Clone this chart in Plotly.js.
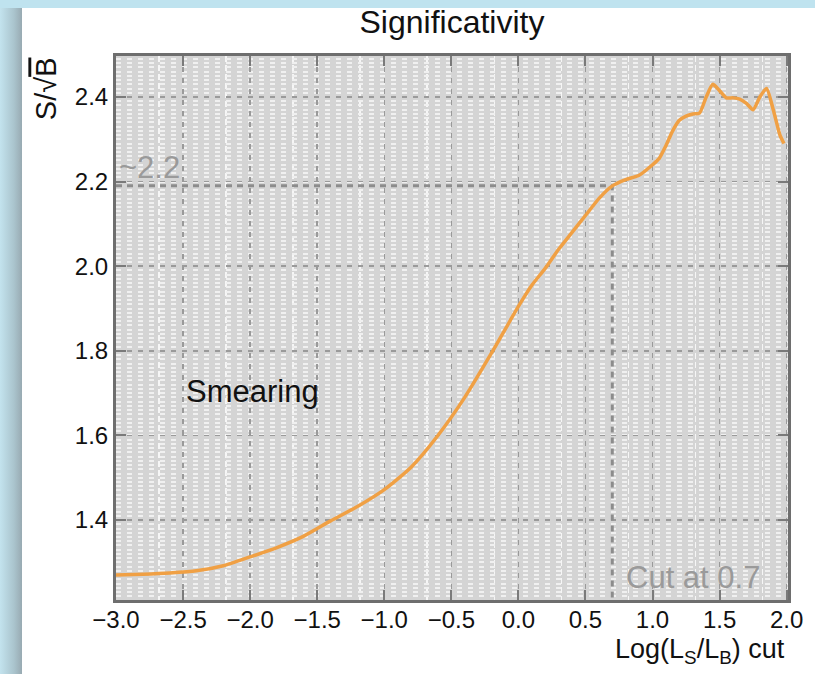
<!DOCTYPE html>
<html>
<head>
<meta charset="utf-8">
<script src="https://cdn.plot.ly/plotly-3.0.1.min.js"></script>
<style>
  html, body { margin: 0; padding: 0; width: 815px; height: 674px; overflow: hidden; }
  body {
    background: linear-gradient(to right, #c3e3ee 0px, #aac4cd 14px, #98aab2 22px, #c0e4f0 22px);
    position: relative;
  }
  #top { position: absolute; left: 0; top: 0; width: 815px; height: 8px; background: #bfe3ef; }
  #panel { position: absolute; left: 22px; top: 8px; width: 793px; height: 666px; background: #ffffff; }
  #chart { position: absolute; left: 0; top: 0; width: 815px; height: 674px; }
</style>
</head>
<body>
<div id="top"></div>
<div id="panel"></div>
<div id="chart"></div>
<script>
// Significance S/sqrt(B) versus the Log(L_S/L_B) cut
const cutValues = [-3.0, -2.8, -2.6, -2.4, -2.2, -2.0, -1.8, -1.6, -1.4, -1.2, -1.0, -0.8, -0.6, -0.4, -0.2,
  0.0, 0.1, 0.2, 0.3, 0.4, 0.5, 0.6, 0.7, 0.8, 0.9, 1.0, 1.05, 1.1, 1.15, 1.2, 1.25, 1.3, 1.35, 1.4,
  1.45, 1.5, 1.55, 1.6, 1.65, 1.7, 1.75, 1.8, 1.85, 1.9, 1.95, 1.98];
const significance = [1.270, 1.272, 1.275, 1.280, 1.292, 1.313, 1.335, 1.362, 1.398, 1.432, 1.472, 1.525, 1.600, 1.690, 1.795,
  1.905, 1.955, 1.995, 2.040, 2.080, 2.120, 2.160, 2.190, 2.205, 2.215, 2.240, 2.255, 2.285, 2.320, 2.345, 2.355, 2.360, 2.362, 2.400,
  2.430, 2.415, 2.398, 2.398, 2.395, 2.385, 2.370, 2.400, 2.420, 2.370, 2.310, 2.290];

const chosenCut = 0.7;
const chosenSignificance = 2.19;
const xRange = [-3.0, 2.01];
const yRange = [1.211, 2.497];
const xTickVals = [-3.0, -2.5, -2.0, -1.5, -1.0, -0.5, 0.0, 0.5, 1.0, 1.5, 2.0];
const xTickText = ['\u22123.0', '\u22122.5', '\u22122.0', '\u22121.5', '\u22121.0', '\u22120.5', '0.0', '0.5', '1.0', '1.5', '2.0'];
const yTickVals = [1.4, 1.6, 1.8, 2.0, 2.2, 2.4];
const yTickText = ['1.4', '1.6', '1.8', '2.0', '2.2', '2.4'];

const FONT = 'Liberation Sans, Arial, Helvetica, sans-serif';

const traces = [
  {
    x: [xRange[0], chosenCut, chosenCut],
    y: [chosenSignificance, chosenSignificance, yRange[0]],
    mode: 'lines',
    line: { color: '#8c8c8c', width: 3, dash: '6px,5px' },
    hoverinfo: 'skip',
    showlegend: false
  },
  {
    x: cutValues,
    y: significance,
    mode: 'lines',
    line: { color: '#f0a044', width: 3.5, shape: 'spline', smoothing: 0.6 },
    showlegend: false
  }
];

const layout = {
  width: 815,
  height: 674,
  margin: { l: 116, r: 27, t: 56, b: 74 },
  paper_bgcolor: 'rgba(0,0,0,0)',
  plot_bgcolor: '#d4d4d4',
  font: { family: FONT, color: '#111' },
  title: {
    text: 'Significativity',
    font: { family: FONT, size: 32, color: '#111' },
    x: 0.5, xref: 'paper', xanchor: 'center',
    y: 0.985, yref: 'container', yanchor: 'top',
    pad: { t: 0, b: 0 }
  },
  xaxis: {
    range: xRange,
    tickvals: xTickVals,
    ticktext: xTickText,
    tickfont: { family: FONT, size: 24, color: '#111' },
    ticklabelstandoff: -4,
    ticks: 'inside', ticklen: 10, tickwidth: 2, tickcolor: '#7a7a7a',
    showline: true, linecolor: '#6e6e6e', linewidth: 3, mirror: 'ticks',
    showgrid: true, gridcolor: '#9a9a9a', gridwidth: 1.5, griddash: '5px,6px',
    minor: { tick0: -2.68, dtick: 0.5, showgrid: true, gridcolor: '#f6f6f6', gridwidth: 1.5, griddash: '6px,3px', ticks: '' },
    zeroline: false,
    fixedrange: true
  },
  yaxis: {
    range: yRange,
    tickvals: yTickVals,
    ticktext: yTickText,
    tickfont: { family: FONT, size: 24, color: '#111' },
    ticks: 'inside', ticklen: 10, tickwidth: 2, tickcolor: '#7a7a7a',
    showline: true, linecolor: '#6e6e6e', linewidth: 3, mirror: 'ticks',
    showgrid: true, gridcolor: '#9a9a9a', gridwidth: 1.5, griddash: '5px,6px',
    minor: { dtick: 0.01, showgrid: true, gridcolor: '#f0f0f0', gridwidth: 2, ticks: '' },
    zeroline: false,
    fixedrange: true
  },
  annotations: [
    {
      text: 'S/\u221A<span style="text-decoration:overline">B</span>',
      textangle: -90,
      xref: 'paper', yref: 'paper',
      x: -0.103, y: 1.002, xanchor: 'center', yanchor: 'top',
      showarrow: false,
      font: { family: FONT, size: 29, color: '#111' }
    },
    {
      text: 'Log(L<sub>S</sub>/L<sub>B</sub>) cut',
      xref: 'paper', yref: 'paper',
      x: 0.998, y: -0.058, xanchor: 'right', yanchor: 'top',
      showarrow: false,
      font: { family: FONT, size: 27, color: '#111' }
    },
    {
      text: '~2.2',
      xref: 'x', yref: 'y',
      x: xRange[0] + 0.01, y: 2.234, xanchor: 'left', yanchor: 'middle',
      showarrow: false,
      font: { family: FONT, size: 31, color: '#9a9a9a' }
    },
    {
      text: 'Cut at 0.7',
      xref: 'x', yref: 'y',
      x: 0.79, y: 1.265, xanchor: 'left', yanchor: 'middle',
      showarrow: false,
      font: { family: FONT, size: 31, color: '#9a9a9a' }
    },
    {
      text: 'Smearing',
      xref: 'x', yref: 'y',
      x: -2.49, y: 1.704, xanchor: 'left', yanchor: 'middle',
      showarrow: false,
      font: { family: FONT, size: 31, color: '#111' }
    }
  ]
};

Plotly.newPlot('chart', traces, layout, { displayModeBar: false, staticPlot: true });
</script>
</body>
</html>
